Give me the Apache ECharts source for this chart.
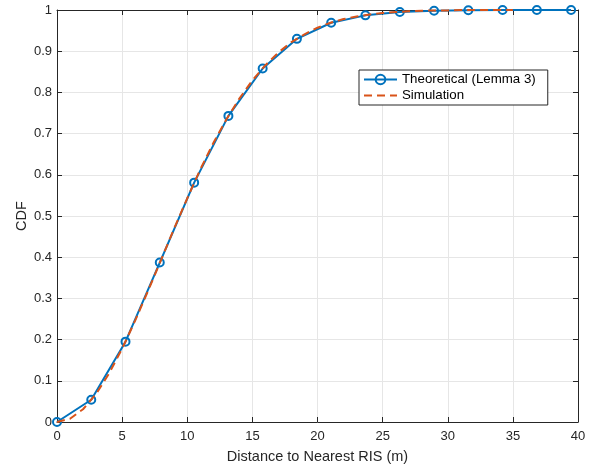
<!DOCTYPE html>
<html>
<head>
<meta charset="utf-8">
<script src="https://cdn.jsdelivr.net/npm/echarts@6/dist/echarts.min.js"></script>
<style>html,body{margin:0;padding:0;background:#fff;}#c{width:596px;height:470px;}</style>
</head>
<body>
<div id="c"></div>
<script>
// Theoretical (Lemma 3): x positions and CDF values
const theoX = [0, 2.63, 5.26, 7.89, 10.53, 13.16, 15.79, 18.42, 21.05, 23.68, 26.32, 28.95, 31.58, 34.21, 36.84, 39.47];
const theoY = [0, 0.054, 0.195, 0.387, 0.581, 0.743, 0.858, 0.930, 0.969, 0.987, 0.995, 0.998, 0.9995, 1, 1, 1];
// Simulation (dashed)
const simX = [0,1,2,3,4,5,6,7,8,9,10,11,12,13,14,15,16,17,18,19,20,21,22,23,24,25,26,27,28,29,30,31,32,33,34,35];
const simY = [0,0.008,0.031,0.068,0.118,0.178,0.246,0.319,0.394,0.470,0.543,0.613,0.677,0.734,0.785,0.829,0.866,0.897,0.922,0.941,0.957,0.969,0.978,0.984,0.989,0.993,0.995,0.997,0.998,0.999,0.999,1,1,1,1,1];
const xTicks = [0,5,10,15,20,25,30,35,40];
const yTicks = [0,0.1,0.2,0.3,0.4,0.5,0.6,0.7,0.8,0.9,1];
const seriesNames = ['Theoretical (Lemma 3)', 'Simulation'];
const xName = 'Distance to Nearest RIS (m)';
const yName = 'CDF';

const FONT = 'Liberation Sans, Arial, Helvetica, sans-serif';
const AX = '#262626';
const GRIDC = '#e6e6e6';
const chart = echarts.init(document.getElementById('c'), null, {renderer: 'canvas'});
const fmt = v => (Math.abs(v) < 1e-9 ? '0' : String(+v.toFixed(1)));
const mkTick = () => ({show: true, inside: true, length: 5, lineStyle: {color: AX, width: 1}});
const mkLine = () => ({show: true, onZero: false, lineStyle: {color: AX, width: 1}});
chart.setOption({
  animation: false,
  backgroundColor: '#fff',
  textStyle: {fontFamily: FONT},
  grid: {left: 57, right: 18, top: 10, bottom: 48, containLabel: false},
  xAxis: [
    {
      type: 'value', position: 'bottom', min: xTicks[0], max: xTicks[xTicks.length-1], interval: 5,
      axisLine: mkLine(), axisTick: mkTick(),
      name: xName, nameLocation: 'middle', nameGap: 27, nameMoveOverlap: false,
      nameTextStyle: {fontSize: 14.5, color: AX, fontFamily: FONT},
      axisLabel: {fontSize: 13, color: AX, margin: 8, fontFamily: FONT, formatter: fmt},
      splitLine: {show: true, lineStyle: {color: GRIDC, width: 1}}
    },
    {
      type: 'value', position: 'top', min: xTicks[0], max: xTicks[xTicks.length-1], interval: 5,
      axisLine: mkLine(), axisTick: mkTick(),
      axisLabel: {show: false}, splitLine: {show: false}
    }
  ],
  yAxis: [
    {
      type: 'value', position: 'left', min: yTicks[0], max: yTicks[yTicks.length-1], interval: 0.1,
      axisLine: mkLine(), axisTick: mkTick(),
      name: yName, nameLocation: 'middle', nameGap: 28, nameRotate: 90, nameMoveOverlap: false,
      nameTextStyle: {fontSize: 14.5, color: AX, fontFamily: FONT},
      axisLabel: {fontSize: 13, color: AX, margin: 5, fontFamily: FONT, formatter: fmt},
      splitLine: {show: true, lineStyle: {color: GRIDC, width: 1}}
    },
    {
      type: 'value', position: 'right', min: yTicks[0], max: yTicks[yTicks.length-1], interval: 0.1,
      axisLine: mkLine(), axisTick: mkTick(),
      axisLabel: {show: false}, splitLine: {show: false}
    }
  ],
  legend: {
    orient: 'vertical', left: 359, top: 70,
    data: [
      {name: seriesNames[0]},
      {name: seriesNames[1], itemStyle: {color: 'rgba(0,0,0,0)', borderWidth: 0, opacity: 0}}
    ],
    backgroundColor: '#fff', borderColor: AX, borderWidth: 1, borderRadius: 0,
    padding: [3, 12, 3, 4], itemGap: 3, itemWidth: 33, itemHeight: 12,
    textStyle: {fontSize: 13.3, color: '#000', fontFamily: FONT}
  },
  series: [
    {
      name: seriesNames[0], type: 'line', xAxisIndex: 0, yAxisIndex: 0,
      data: theoX.map((x, i) => [x, theoY[i]]),
      symbol: 'circle', symbolSize: 8, showSymbol: true,
      lineStyle: {color: '#0072BD', width: 2},
      itemStyle: {color: 'rgba(255,255,255,0)', borderColor: '#0072BD', borderWidth: 2},
      z: 2
    },
    {
      name: seriesNames[1], type: 'line', xAxisIndex: 0, yAxisIndex: 0,
      data: simX.map((x, i) => [x, simY[i]]),
      showSymbol: false, symbol: 'none', smooth: false,
      lineStyle: {color: '#D95319', width: 2, type: [8, 5]},
      itemStyle: {color: 'rgba(0,0,0,0)'},
      z: 3
    }
  ]
});
</script>
</body>
</html>
